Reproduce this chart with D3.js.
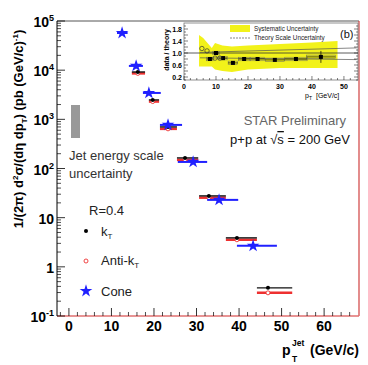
<!DOCTYPE html>
<html>
<head>
<meta charset="utf-8">
<script src="https://cdn.jsdelivr.net/npm/d3@7"></script>
<style>
  body { margin: 0; background: #fff; }
  text { font-family: "Liberation Sans", Arial, sans-serif; }
</style>
</head>
<body>
<div id="chart"></div>
<script>
// ---- main spectrum data ----
const coneX  = [12.5, 15.8, 18.8, 23.3, 29.2, 35.3, 43.3];
const coneLo = [11.3, 14.1, 17.4, 21.4, 25.6, 32.5, 39.5];
const coneHi = [13.8, 17.4, 21.6, 26.6, 32.5, 39.8, 48.9];
const coneY  = [57000, 12200, 3440, 770, 136, 23, 2.67];

const ktX  = [16.2, 19.7, 23.3, 27.3, 32.9, 39.5, 46.8];
const ktLo = [14.8, 18.8, 21.4, 25.4, 30.6, 36.9, 44.2];
const ktHi = [17.9, 21.2, 25.4, 30.4, 36.9, 44.2, 52.5];
const ktY  = [9180, 2480, 700, 164, 27.7, 3.88, 0.374];
const antiY = [8600, 2300, 640, 150, 25.5, 3.55, 0.296];

const xTicks = [0, 10, 20, 30, 40, 50, 60];
const yTicks = [0.1, 1, 10, 100, 1000, 10000, 100000];
const yLabels = [["10","-1"], ["1",""], ["10",""], ["10","2"], ["10","3"], ["10","4"], ["10","5"]];

// ---- inset (data / theory) ----
const inX    = [8.1, 10, 12.2, 15.3, 18.8, 23, 28.4, 35, 42.8];
const inY    = [0.8, 1.0, 0.83, 0.67, 0.8, 0.8, 0.77, 0.8, 0.87];
const inXerr = [1.0, 1.0, 1.3, 1.5, 1.8, 2.2, 3.0, 3.5, 4.5];
const inYerr = [0.05, 0.06, 0.05, 0.05, 0.04, 0.04, 0.05, 0.07, 0.2];
const inOpenX = [5.6, 7.2, 9.7, 11.2];
const inOpenY = [1.15, 1.07, 0.83, 0.83];

const bandX  = [4.7, 6, 8.7, 9.7, 12, 15, 20, 30, 40, 48];
const bandHi = [1.6, 1.5, 1.17, 1.33, 1.25, 1.22, 1.25, 1.3, 1.35, 1.4];
const bandLo = [0.55, 0.55, 0.55, 0.45, 0.4, 0.37, 0.45, 0.5, 0.5, 0.5];

const thX  = [5, 54];
const thHi = [1.02, 1.17];
const thLo = [0.84, 0.78];

const inXTicks = [0, 10, 20, 30, 40, 50];
const inYTicks = [0.2, 0.6, 1.0, 1.4, 1.8];

const width = 368, height = 365;

const svg = d3.select("#chart").append("svg")
    .attr("width", width).attr("height", height);

const x = d3.scaleLinear().domain([-2.8, 68.2]).range([57, 359]);
const y = d3.scaleLog().domain([0.1, 1e5]).range([316, 21]);

// frame
svg.append("line").attr("x1", 57).attr("x2", 359).attr("y1", 21).attr("y2", 21)
    .attr("stroke", "#555").attr("stroke-width", 1);
svg.append("line").attr("x1", 359).attr("x2", 359).attr("y1", 21).attr("y2", 316)
    .attr("stroke", "#d04040").attr("stroke-width", 1.2);
svg.append("line").attr("x1", 57).attr("x2", 359).attr("y1", 316).attr("y2", 316)
    .attr("stroke", "#e07070").attr("stroke-width", 1.5);
svg.append("line").attr("x1", 57).attr("x2", 57).attr("y1", 21).attr("y2", 316)
    .attr("stroke", "#000").attr("stroke-width", 1);

// y ticks (major + minor)
const yMinor = y.ticks().filter(v => !yTicks.includes(v));
svg.append("g").selectAll("line").data(yMinor).enter().append("line")
    .attr("x1", 57).attr("x2", 61).attr("y1", d => y(d)).attr("y2", d => y(d))
    .attr("stroke", "#000").attr("stroke-width", 0.7);
svg.append("g").selectAll("line").data(yTicks).enter().append("line")
    .attr("x1", 57).attr("x2", 65).attr("y1", d => y(d)).attr("y2", d => y(d))
    .attr("stroke", "#000").attr("stroke-width", 0.8);

const yl = svg.append("g").selectAll("text").data(yTicks).enter().append("text")
    .attr("x", 54).attr("y", d => y(d) + 6)
    .attr("text-anchor", "end")
    .attr("font-weight", "bold").attr("font-size", 14);
yl.append("tspan").text((d, i) => yLabels[i][0]);
yl.append("tspan").attr("font-size", 9).attr("dy", -6).text((d, i) => yLabels[i][1]);

// x ticks
const xMinor = d3.range(-2, 68, 2).filter(v => v % 10 !== 0);
svg.append("g").selectAll("line").data(xMinor).enter().append("line")
    .attr("x1", d => x(d)).attr("x2", d => x(d)).attr("y1", 316).attr("y2", 312)
    .attr("stroke", "#000").attr("stroke-width", 0.7);
svg.append("g").selectAll("line").data(xTicks).enter().append("line")
    .attr("x1", d => x(d)).attr("x2", d => x(d)).attr("y1", 316).attr("y2", 308)
    .attr("stroke", "#000").attr("stroke-width", 0.8);
svg.append("g").selectAll("text").data(xTicks).enter().append("text")
    .attr("x", d => x(d)).attr("y", 331)
    .attr("text-anchor", "middle")
    .attr("font-weight", "bold").attr("font-size", 14)
    .text(d => d);

// axis titles
const yt = svg.append("text")
    .attr("transform", "translate(23,129) rotate(-90)")
    .attr("text-anchor", "middle")
    .attr("font-weight", "bold").attr("font-size", 13);
yt.append("tspan").text("1/(2π) d");
yt.append("tspan").attr("font-size", 8).attr("dy", -5).text("2");
yt.append("tspan").attr("dy", 5).text("σ/(dη dp");
yt.append("tspan").attr("font-size", 8).attr("dy", 4).text("T");
yt.append("tspan").attr("dy", -4).text(") (pb (GeV/c)");
yt.append("tspan").attr("font-size", 8).attr("dy", -5).text("-1");
yt.append("tspan").attr("dy", 5).text(")");

svg.append("text").attr("x", 282).attr("y", 355)
    .attr("font-weight", "bold").attr("font-size", 14).text("p");
svg.append("text").attr("x", 292).attr("y", 346)
    .attr("font-weight", "bold").attr("font-size", 8.5).text("Jet");
svg.append("text").attr("x", 292).attr("y", 362)
    .attr("font-weight", "bold").attr("font-size", 8.5).text("T");
svg.append("text").attr("x", 359).attr("y", 355).attr("text-anchor", "end")
    .attr("font-weight", "bold").attr("font-size", 14).text("(GeV/c)");

// ---- data points ----
const anti = svg.append("g");
anti.selectAll("line").data(ktX).enter().append("line")
    .attr("x1", (d, i) => x(ktLo[i])).attr("x2", (d, i) => x(ktHi[i]))
    .attr("y1", (d, i) => y(antiY[i])).attr("y2", (d, i) => y(antiY[i]))
    .attr("stroke", "#ee3030").attr("stroke-width", 2.5);

const kt = svg.append("g");
kt.selectAll("line").data(ktX).enter().append("line")
    .attr("x1", (d, i) => x(ktLo[i])).attr("x2", (d, i) => x(ktHi[i]))
    .attr("y1", (d, i) => y(ktY[i])).attr("y2", (d, i) => y(ktY[i]))
    .attr("stroke", "#111").attr("stroke-width", 1.4);
kt.selectAll("circle").data(ktX).enter().append("circle")
    .attr("cx", d => x(d)).attr("cy", (d, i) => y(ktY[i])).attr("r", 2)
    .attr("fill", "#000");

anti.selectAll("circle").data(ktX).enter().append("circle")
    .attr("cx", d => x(d)).attr("cy", (d, i) => y(antiY[i])).attr("r", 2)
    .attr("fill", "#fff").attr("stroke", "#ee3030").attr("stroke-width", 0.9);

const cone = svg.append("g");
cone.selectAll("line").data(coneX).enter().append("line")
    .attr("x1", (d, i) => x(coneLo[i])).attr("x2", (d, i) => x(coneHi[i]))
    .attr("y1", (d, i) => y(coneY[i])).attr("y2", (d, i) => y(coneY[i]))
    .attr("stroke", "#2020ff").attr("stroke-width", 2);
const star = d3.symbol().type(d3.symbolStar).size(50);
cone.selectAll("path").data(coneX).enter().append("path")
    .attr("d", star)
    .attr("transform", (d, i) => `translate(${x(d)},${y(coneY[i])})`)
    .attr("fill", "#2020ff");

// ---- annotations ----
svg.append("rect").attr("x", 71).attr("y", 105).attr("width", 9).attr("height", 33)
    .attr("fill", "#999");
svg.append("text").attr("x", 69).attr("y", 160).attr("font-size", 13)
    .attr("fill", "#333").text("Jet energy scale");
svg.append("text").attr("x", 69).attr("y", 178).attr("font-size", 13)
    .attr("fill", "#333").text("uncertainty");

svg.append("text").attr("x", 346).attr("y", 125).attr("text-anchor", "end")
    .attr("font-size", 13).attr("fill", "#666").text("STAR Preliminary");
const pp = svg.append("text").attr("x", 350).attr("y", 144).attr("text-anchor", "end")
    .attr("font-size", 13).attr("fill", "#111");
pp.append("tspan").text("p+p at √");
pp.append("tspan").attr("text-decoration", "overline").text("s");
pp.append("tspan").text(" = 200 GeV");

// legend
svg.append("text").attr("x", 89).attr("y", 215).attr("font-size", 13)
    .attr("fill", "#222").text("R=0.4");
svg.append("circle").attr("cx", 86).attr("cy", 231).attr("r", 2).attr("fill", "#000");
const l1 = svg.append("text").attr("x", 101).attr("y", 236).attr("font-size", 13).attr("fill", "#222");
l1.append("tspan").text("k");
l1.append("tspan").attr("font-size", 8).attr("dy", 3).text("T");
svg.append("circle").attr("cx", 86).attr("cy", 261).attr("r", 2)
    .attr("fill", "#fff").attr("stroke", "#ee3030").attr("stroke-width", 0.9);
const l2 = svg.append("text").attr("x", 101).attr("y", 265).attr("font-size", 13).attr("fill", "#222");
l2.append("tspan").text("Anti-k");
l2.append("tspan").attr("font-size", 8).attr("dy", 3).text("T");
svg.append("path").attr("d", star).attr("transform", "translate(86,291)").attr("fill", "#2020ff");
svg.append("text").attr("x", 101).attr("y", 296).attr("font-size", 13)
    .attr("fill", "#222").text("Cone");

// ---- inset ----
const ix = d3.scaleLinear().domain([0, 54.4]).range([184, 358]);
const iy = d3.scaleLinear().domain([0.1, 2.0]).range([80, 23]);
const inset = svg.append("g");

inset.append("rect").attr("x", 184).attr("y", 23).attr("width", 174).attr("height", 57)
    .attr("fill", "#fff").attr("stroke", "#777").attr("stroke-width", 0.8);

const band = d3.area().x((d, i) => ix(d)).y0((d, i) => iy(bandLo[i])).y1((d, i) => iy(bandHi[i]));
inset.append("path").datum(bandX).attr("d", band).attr("fill", "#f2f21a");

inset.append("line").attr("x1", ix(0)).attr("x2", ix(54.4)).attr("y1", iy(1.0)).attr("y2", iy(1.0))
    .attr("stroke", "#333").attr("stroke-width", 0.8);
const thLine = d3.line().x(d => ix(d[0])).y(d => iy(d[1]));
inset.append("path").attr("d", thLine(thX.map((v, i) => [v, thHi[i]])))
    .attr("fill", "none").attr("stroke", "#555").attr("stroke-width", 0.7);
inset.append("path").attr("d", thLine(thX.map((v, i) => [v, thLo[i]])))
    .attr("fill", "none").attr("stroke", "#555").attr("stroke-width", 0.7);

// systematic boxes + points
inset.selectAll("rect.box").data(inX).enter().append("rect").attr("class", "box")
    .attr("x", (d, i) => ix(d - inXerr[i])).attr("width", (d, i) => ix(d + inXerr[i]) - ix(d - inXerr[i]))
    .attr("y", (d, i) => iy(inY[i] + 0.06)).attr("height", iy(0) - iy(0.12))
    .attr("fill", "none").attr("stroke", "#666").attr("stroke-width", 0.5);
inset.selectAll("line.xe").data(inX).enter().append("line").attr("class", "xe")
    .attr("x1", (d, i) => ix(d - inXerr[i])).attr("x2", (d, i) => ix(d + inXerr[i]))
    .attr("y1", (d, i) => iy(inY[i])).attr("y2", (d, i) => iy(inY[i]))
    .attr("stroke", "#000").attr("stroke-width", 0.7);
inset.selectAll("line.ye").data(inX).enter().append("line").attr("class", "ye")
    .attr("x1", d => ix(d)).attr("x2", d => ix(d))
    .attr("y1", (d, i) => iy(inY[i] - inYerr[i])).attr("y2", (d, i) => iy(inY[i] + inYerr[i]))
    .attr("stroke", "#000").attr("stroke-width", 0.7);
inset.selectAll("rect.pt").data(inX).enter().append("rect").attr("class", "pt")
    .attr("x", d => ix(d) - 2).attr("y", (d, i) => iy(inY[i]) - 2)
    .attr("width", 4).attr("height", 4).attr("fill", "#000");
inset.selectAll("circle").data(inOpenX).enter().append("circle")
    .attr("cx", d => ix(d)).attr("cy", (d, i) => iy(inOpenY[i])).attr("r", 2.2)
    .attr("fill", "none").attr("stroke", "#333").attr("stroke-width", 0.7);

// inset axes
inset.selectAll("line.ixm").data(d3.range(0, 54, 2)).enter().append("line").attr("class", "ixm")
    .attr("x1", d => ix(d)).attr("x2", d => ix(d)).attr("y1", 80)
    .attr("y2", d => d % 10 === 0 ? 76 : 78).attr("stroke", "#000").attr("stroke-width", 0.5);
inset.selectAll("text.ixl").data(inXTicks).enter().append("text").attr("class", "ixl")
    .attr("x", d => ix(d)).attr("y", 89).attr("text-anchor", "middle")
    .attr("font-size", 7).attr("font-weight", "bold").text(d => d);
const iyTickVals = d3.range(0.1, 2.0, 0.1).map(v => +v.toFixed(1));
inset.selectAll("line.iym").data(iyTickVals).enter().append("line").attr("class", "iym")
    .attr("x1", 184).attr("x2", d => Math.round(d * 10) % 2 === 0 ? 188 : 186)
    .attr("y1", d => iy(d)).attr("y2", d => iy(d)).attr("stroke", "#000").attr("stroke-width", 0.5);
inset.selectAll("line.iyr").data(iyTickVals).enter().append("line").attr("class", "iyr")
    .attr("x1", 358).attr("x2", d => Math.round(d * 10) % 2 === 0 ? 354 : 356)
    .attr("y1", d => iy(d)).attr("y2", d => iy(d)).attr("stroke", "#000").attr("stroke-width", 0.5);
inset.selectAll("text.iyl").data(inYTicks).enter().append("text").attr("class", "iyl")
    .attr("x", 182).attr("y", d => iy(d) + 2.5).attr("text-anchor", "end")
    .attr("font-size", 7).attr("font-weight", "bold").text(d => d.toFixed(1));
inset.append("text").attr("transform", "translate(169,50) rotate(-90)")
    .attr("text-anchor", "middle").attr("font-size", 7).attr("font-weight", "bold")
    .text("data / theory");
const ipt = inset.append("text").attr("x", 305).attr("y", 98).attr("font-size", 7);
ipt.append("tspan").text("p");
ipt.append("tspan").attr("font-size", 5).attr("dy", 2).text("T");
ipt.append("tspan").attr("dy", -2).attr("dx", 4).text("[GeV/c]");

// inset legend
inset.append("rect").attr("x", 230).attr("y", 25).attr("width", 20).attr("height", 7).attr("fill", "#f2f21a");
inset.append("text").attr("x", 254).attr("y", 31).attr("font-size", 6.3).attr("fill", "#222")
    .text("Systematic Uncertainty");
inset.append("line").attr("x1", 230).attr("x2", 250).attr("y1", 38).attr("y2", 38)
    .attr("stroke", "#555").attr("stroke-width", 0.7).attr("stroke-dasharray", "2,1");
inset.append("text").attr("x", 254).attr("y", 40).attr("font-size", 6.3).attr("fill", "#222")
    .text("Theory Scale Uncertainty");
inset.append("text").attr("x", 340).attr("y", 38).attr("font-size", 11).attr("fill", "#111").text("(b)");
</script>
</body>
</html>
